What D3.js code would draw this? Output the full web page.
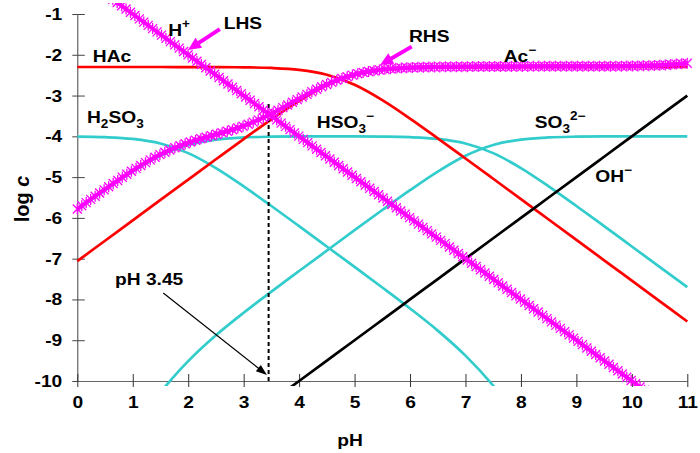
<!DOCTYPE html>
<html>
<head>
<meta charset="utf-8">
<script src="https://cdn.jsdelivr.net/npm/d3@7"></script>
<style>
body { margin: 0; background: #fff; }
svg text { font-family: Arial, "Liberation Sans", sans-serif; font-weight: bold; fill: #000; }
</style>
</head>
<body>
<svg id="chart" width="700" height="453"></svg>
<script>
// pH grid and log concentrations
var pH = [0, 0.5, 1, 1.5, 2, 2.5, 3, 3.5, 4, 4.5, 5, 5.5, 6, 6.5, 7, 7.5, 8, 8.5, 9, 9.5, 10, 10.5, 11];

var logHAc = [-2.3, -2.3, -2.3, -2.3, -2.301, -2.302, -2.308, -2.323, -2.37, -2.49, -2.737, -3.113,
  -3.564, -4.048, -4.543, -5.041, -5.54, -6.04, -6.54, -7.04, -7.54, -8.04, -8.54];
var logAc = [-7.06, -6.56, -6.06, -5.56, -5.061, -4.562, -4.067, -3.583, -3.13, -2.75, -2.497, -2.373,
  -2.324, -2.308, -2.303, -2.301, -2.3, -2.3, -2.3, -2.3, -2.3, -2.3, -2.3];
var logH2SO3 = [-4.007, -4.021, -4.064, -4.176, -4.412, -4.779, -5.227, -5.709, -6.203, -6.702, -7.203, -7.707,
  -8.221, -8.764, -9.377, -10.112, -10.979, -11.927, -12.909, -13.9, -14.9, -15.9, -16.9];
var logHSO3 = [-5.807, -5.321, -4.864, -4.476, -4.212, -4.079, -4.027, -4.009, -4.003, -4.002, -4.002, -4.007,
  -4.021, -4.064, -4.176, -4.412, -4.779, -5.227, -5.709, -6.203, -6.701, -7.2, -7.7];
var logSO3 = [-13.107, -12.121, -11.164, -10.276, -9.512, -8.879, -8.327, -7.809, -7.303, -6.802, -6.302, -5.807,
  -5.321, -4.864, -4.476, -4.212, -4.079, -4.027, -4.009, -4.003, -4.001, -4.0, -4.0];
var logH = [0, -0.5, -1, -1.5, -2, -2.5, -3, -3.5, -4, -4.5, -5, -5.5, -6, -6.5, -7, -7.5, -8, -8.5, -9, -9.5, -10, -10.5, -11];
var logOH = [-14, -13.5, -13, -12.5, -12, -11.5, -11, -10.5, -10, -9.5, -9, -8.5, -8, -7.5, -7, -6.5, -6, -5.5, -5, -4.5, -4, -3.5, -3];
// charge balance: LHS = [H+], RHS = [HSO3-] + 2[SO3 2-] + [Ac-] + [OH-]
var logLHS = logH;
var logRHS = [-5.783, -5.297, -4.837, -4.442, -4.155, -3.956, -3.746, -3.445, -3.075, -2.726, -2.484, -2.363,
  -2.315, -2.298, -2.291, -2.287, -2.285, -2.283, -2.282, -2.281, -2.275, -2.257, -2.207];

var xTicks = [0, 1, 2, 3, 4, 5, 6, 7, 8, 9, 10, 11];
var yTicks = [-1, -2, -3, -4, -5, -6, -7, -8, -9, -10];
var pHcross = 3.45;

var red = '#ff0000', cyan = '#33cccc', pink = '#ff00ff';

var svg = d3.select('#chart');
var x = d3.scaleLinear().domain([0, 11]).range([77.3, 687.3]);
var y = d3.scaleLinear().domain([-10, -1]).range([381, 14]);

svg.append('defs').append('clipPath').attr('id', 'clip')
  .append('rect').attr('x', 60).attr('y', 3).attr('width', 640).attr('height', 383);

// axes
var yAxis = svg.append('g').attr('transform', 'translate(' + x(0) + ',0)').attr('color', '#444')
  .call(d3.axisLeft(y).tickValues(yTicks).tickSizeInner(5).tickSizeOuter(0).tickFormat(function (d) { return String(d); }));
yAxis.selectAll('text').attr('x', 0).attr('fill', '#000').style('font-size', '17px')
  .attr('transform', 'translate(-15,0) scale(1.13,1)');
svg.append('g').attr('transform', 'translate(' + x(0) + ',0)').attr('color', '#444')
  .call(d3.axisRight(y).tickValues(yTicks).tickSize(7.5).tickFormat(''))
  .select('.domain').remove();

var xAxis = svg.append('g').attr('transform', 'translate(0,' + y(-10) + ')').attr('color', '#666')
  .call(d3.axisBottom(x).tickValues(xTicks).tickSizeInner(6).tickSizeOuter(0).tickPadding(9));
xAxis.selectAll('text').attr('fill', '#000').style('font-size', '17px').attr('transform', 'scale(1.13,1)');
xAxis.selectAll('.tick line').attr('stroke', '#333');
svg.append('g').attr('transform', 'translate(0,' + y(-10) + ')').attr('color', '#333')
  .call(d3.axisTop(x).tickValues(xTicks).tickSize(7).tickFormat(''))
  .select('.domain').remove();

svg.append('text').attr('transform', 'translate(350,446) scale(1.13,1)').attr('text-anchor', 'middle')
  .style('font-size', '17px').text('pH');
var yt = svg.append('text').attr('transform', 'translate(29,199) rotate(-90)').attr('text-anchor', 'middle')
  .style('font-size', '20px');
yt.append('tspan').text('log ');
yt.append('tspan').style('font-style', 'italic').text('c');

// curves
var line = d3.line()
  .x(function (d, i) { return x(pH[i]); })
  .y(function (d) { return y(d); })
  .curve(d3.curveCatmullRom.alpha(0.5));

var plot = svg.append('g').attr('clip-path', 'url(#clip)');

function curve(vals, color, w) {
  return plot.append('path').attr('d', line(vals)).attr('fill', 'none')
    .attr('stroke', color).attr('stroke-width', w);
}

curve(logH2SO3, cyan, 2.7);
curve(logHSO3, cyan, 2.7);
curve(logSO3, cyan, 2.7);
curve(logHAc, red, 2.7);
curve(logAc, red, 2.7);
curve(logOH, '#000', 2.7);
curve(logH, '#000', 2);

plot.append('line')
  .attr('x1', x(pHcross)).attr('x2', x(pHcross))
  .attr('y1', y(-10)).attr('y2', y(-3.15))
  .attr('stroke', '#000').attr('stroke-width', 2).attr('stroke-dasharray', '4,3');

function pinkBand(vals) {
  var p = curve(vals, pink, 4);
  var node = p.node(), len = node.getTotalLength();
  for (var s = 0; s <= len; s += 5.5) {
    var pt = node.getPointAtLength(s);
    plot.append('path')
      .attr('transform', 'translate(' + pt.x + ',' + pt.y + ')')
      .attr('d', 'M-4.5,-4.5L4.5,4.5M-4.5,4.5L4.5,-4.5M0,-5.5L0,5.5')
      .attr('stroke', pink).attr('stroke-width', 1.3).attr('fill', 'none');
  }
}
pinkBand(logLHS);
pinkBand(logRHS);

// annotations
function label(ph, c, parts) {
  var t = svg.append('text')
    .attr('transform', 'translate(' + x(ph) + ',' + y(c) + ') scale(1.13,1)')
    .style('font-size', '17px');
  var cur = 0;
  parts.forEach(function (p) {
    var off = p[1] === 'sub' ? 5 : p[1] === 'sup' ? -8 : 0;
    t.append('tspan').attr('dy', off - cur).style('font-size', p[1] ? '12px' : null).text(p[0]);
    cur = off;
  });
}

function arrow(a, b, color, w, hl, hw) {
  var x0 = x(a[0]), y0 = y(a[1]), x1 = x(b[0]), y1 = y(b[1]);
  var dx = x1 - x0, dy = y1 - y0, L = Math.sqrt(dx * dx + dy * dy);
  var ux = dx / L, uy = dy / L;
  var bx = x1 - ux * hl, by = y1 - uy * hl;
  svg.append('line').attr('x1', x0).attr('y1', y0).attr('x2', bx + ux).attr('y2', by + uy)
    .attr('stroke', color).attr('stroke-width', w);
  svg.append('path')
    .attr('d', 'M' + x1 + ',' + y1 + 'L' + (bx - uy * hw / 2) + ',' + (by + ux * hw / 2) +
      'L' + (bx + uy * hw / 2) + ',' + (by - ux * hw / 2) + 'Z')
    .attr('fill', color);
}

label(0.28, -2.18, [['HAc']]);
label(0.175, -3.67, [['H'], ['2', 'sub'], ['SO'], ['3', 'sub']]);
label(1.64, -1.54, [['H'], ['+', 'sup']]);
label(2.64, -1.36, [['LHS']]);
label(5.98, -1.69, [['RHS']]);
label(4.32, -3.8, [['HSO'], ['3', 'sub'], ['\u2212', 'sup']]);
label(7.69, -2.18, [['Ac'], ['\u2212', 'sup']]);
label(8.25, -3.8, [['SO'], ['3', 'sub'], ['2\u2212', 'sup']]);
label(9.34, -5.13, [['OH'], ['\u2212', 'sup']]);
label(0.68, -7.65, [['pH ' + pHcross]]);

arrow([2.57, -1.37], [1.995, -1.88], pink, 4, 13, 12);
arrow([6.03, -1.8], [5.46, -2.25], pink, 4, 13, 12);
arrow([1.55, -7.84], [3.42, -9.85], '#000', 1.2, 11, 8);
</script>
</body>
</html>
